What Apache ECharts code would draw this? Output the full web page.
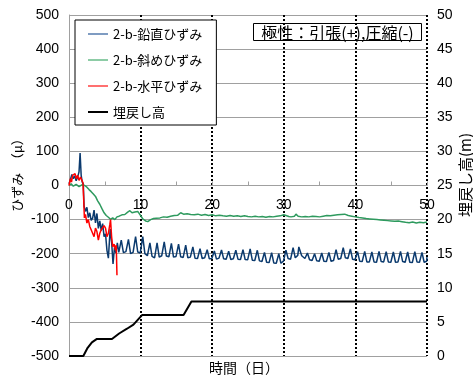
<!DOCTYPE html>
<html>
<head>
<meta charset="utf-8">
<script src="https://cdn.jsdelivr.net/npm/echarts@6/dist/echarts.min.js"></script>
<style>
  html, body { margin: 0; padding: 0; background: #fff; }
  #chart { width: 473px; height: 378px; }
</style>
</head>
<body>
<div id="chart"></div>
<script>
// Strain readings [day, μ] and backfill height [day, m]
const vertical = [
  [0,5],[0.2,18],[0.4,32],[0.6,20],[0.8,28],[1.0,14],[1.2,24],[1.4,40],[1.55,95],[1.7,30],[1.85,10],[2.0,4],
  [2.1,-60],[2.3,-76],[2.5,-64],[2.7,-94],[2.9,-80],[3.1,-102],[3.3,-96],[3.5,-72],[3.7,-110],[3.9,-82],
  [4.1,-126],[4.3,-104],[4.5,-132],[4.7,-112],[4.9,-150],[5.1,-142],[5.3,-190],[5.5,-213],[5.75,-128],[5.95,-165],
  [6.15,-230],[6.35,-182],[6.55,-198],[6.75,-168],[6.95,-196],
  [7.3,-160],[7.6,-197],[7.95,-194],[8.3,-158],[8.6,-200],[8.95,-196],[9.3,-150],[9.6,-195],[9.95,-198],
  [10.3,-150],[10.6,-200],[10.95,-206],[11.3,-168],[11.6,-208],[11.95,-212],[12.3,-168],[12.6,-210],[12.95,-206],
  [13.3,-165],[13.6,-207],[13.95,-209],[14.3,-170],[14.6,-210],[14.95,-208],[15.3,-172],[15.6,-209],[15.95,-211],
  [16.3,-175],[16.6,-212],[16.95,-210],[17.3,-180],[17.6,-213],[17.95,-214],[18.3,-185],[18.6,-214],[18.95,-212],
  [19.3,-188],[19.6,-215],[19.95,-214],[20.3,-192],[20.6,-216],[20.95,-213],[21.3,-189],[21.6,-215],[21.95,-216],
  [22.3,-193],[22.6,-217],[22.95,-215],[23.3,-190],[23.6,-216],[23.95,-217],[24.3,-188],[24.6,-217],[24.95,-218],
  [25.3,-186],[25.6,-219],[25.95,-220],[26.3,-190],[26.6,-221],[26.95,-223],[27.3,-196],[27.6,-225],[27.95,-226],
  [28.3,-197],[28.6,-227],[28.95,-228],[29.3,-200],[29.6,-228],[29.95,-222],[30.3,-190],[30.6,-214],[30.95,-216],
  [31.3,-182],[31.6,-212],[31.95,-205],[32.1,-180],[32.5,-206],[32.95,-214],[33.3,-198],[33.6,-218],[33.95,-220],
  [34.3,-200],[34.6,-221],[34.95,-222],[35.3,-198],[35.6,-222],[35.95,-223],[36.3,-196],[36.6,-222],[36.95,-220],
  [37.3,-188],[37.6,-216],[37.95,-214],[38.3,-182],[38.6,-212],[38.95,-214],[39.3,-186],[39.6,-216],[39.95,-218],
  [40.3,-194],[40.6,-222],[40.95,-223],[41.3,-193],[41.6,-224],[41.95,-224],[42.3,-195],[42.6,-224],[42.95,-225],
  [43.3,-193],[43.6,-223],[43.95,-224],[44.3,-194],[44.6,-224],[44.95,-225],[45.3,-195],[45.6,-225],[45.95,-224],
  [46.3,-193],[46.6,-223],[46.95,-225],[47.3,-195],[47.6,-225],[47.95,-226],[48.3,-194],[48.6,-224],[48.95,-225],
  [49.3,-196],[49.6,-225],[49.95,-222],[50,-210]
];

const diagonal = [
  [0,0],[0.3,5],[0.6,-2],[1.0,3],[1.4,-3],[1.8,2],[2.2,0],[2.5,-5],[2.8,-12],[3.1,-18],[3.4,-25],[3.7,-32],
  [4.0,-45],[4.3,-55],[4.6,-68],[4.9,-80],[5.2,-88],[5.5,-93],[5.8,-99],[6.1,-95],[6.4,-100],[6.7,-92],
  [7.0,-90],[7.4,-86],[7.8,-85],[8.2,-78],[8.5,-74],[8.8,-80],[9.2,-78],[9.6,-76],[10.0,-88],[10.3,-98],
  [10.7,-104],[11.0,-106],[11.4,-100],[11.8,-97],[12.2,-96],[12.7,-95],[13.2,-92],[13.7,-93],[14.2,-90],
  [14.7,-88],[15.2,-87],[15.6,-80],[15.8,-77],[16.0,-84],[16.5,-83],[17.0,-85],[17.5,-86],[18.0,-84],
  [18.5,-87],[19.0,-85],[19.5,-88],[20.0,-86],[20.5,-89],[21.0,-87],[21.5,-89],[22.0,-90],[22.5,-88],
  [23.0,-90],[23.5,-89],[24.0,-91],[24.5,-89],[25,-91],[25.5,-92],[26,-90],[26.5,-92],[27,-91],[27.5,-93],
  [28,-91],[28.5,-92],[29,-90],[29.5,-89],[30.0,-86],[30.3,-88],[30.7,-91],[31,-92],[31.5,-90],[31.7,-84],
  [32,-90],[32.5,-92],[33,-91],[33.5,-92],[34,-90],[34.5,-91],[35,-92],[35.5,-90],[36,-88],[36.5,-89],
  [37,-87],[37.5,-86],[38,-85],[38.5,-84],[39,-88],[39.5,-90],[40,-92],[40.5,-94],[41,-95],[41.5,-97],
  [42,-98],[42.5,-99],[43,-100],[43.5,-101],[44,-102],[44.5,-103],[45,-104],[45.5,-105],[46,-104],
  [46.5,-106],[47,-108],[47.5,-109],[48,-107],[48.5,-110],[49,-108],[49.5,-109],[50,-107]
];

const horizontal = [
  [0,0],[0.2,20],[0.35,10],[0.5,30],[0.7,25],[0.85,35],[1.0,20],[1.2,30],[1.4,15],[1.6,25],[1.8,20],[1.95,8],
  [2.05,-40],[2.15,-95],[2.3,-85],[2.5,-110],[2.7,-100],[2.9,-120],[3.1,-115],[3.3,-140],[3.5,-150],[3.7,-125],
  [3.9,-135],[4.1,-160],[4.3,-140],[4.5,-130],[4.7,-135],[4.9,-118],[5.1,-125],[5.3,-150],[5.5,-140],[5.7,-115],
  [5.8,-100],[5.95,-150],[6.1,-180],[6.3,-172],[6.5,-190],[6.6,-175],[6.7,-263]
];

const backfill = [
  [0,0],[2,0],[2.6,1.2],[3.2,2],[3.9,2.5],[6,2.5],[7,3.3],[8.1,4],[9,4.6],[10.2,6],[16,6],[17.1,8],[50,8]
];

const seriesNames = ['2-b-鉛直ひずみ', '2-b-斜めひずみ', '2-b-水平ひずみ', '埋戻し高'];
const xTicks = { min: 0, max: 50, step: 10 };
const strainTicks = { min: -500, max: 500, step: 100 };
const heightTicks = { min: 0, max: 50, step: 5 };

const NUM_FONT = '"Liberation Sans", Arial, sans-serif';
const JP_FONT = '"Noto Sans CJK JP", "Noto Sans", sans-serif';
const GRID_GRAY = '#a0a0a0';

const GRID = { left: 69, right: 46, top: 15, bottom: 22 };
const chartH = 378;
const plotH = chartH - GRID.top - GRID.bottom;
// the time axis sits on the zero-strain line
const zeroOffset = -plotH * (0 - strainTicks.min) / (strainTicks.max - strainTicks.min);

const chart = echarts.init(document.getElementById('chart'), null, { renderer: 'canvas' });

chart.setOption({
  animation: false,
  backgroundColor: '#fff',
  grid: Object.assign({ containLabel: false }, GRID),
  xAxis: {
    type: 'value',
    min: xTicks.min, max: xTicks.max, interval: xTicks.step,
    offset: zeroOffset,
    axisLine: { show: true, onZero: false, lineStyle: { color: GRID_GRAY, width: 1 } },
    axisTick: { show: true, inside: true, length: 4, lineStyle: { color: GRID_GRAY } },
    minorTick: { show: true, splitNumber: 2, length: 4, lineStyle: { color: GRID_GRAY } },
    axisLabel: { margin: 13, color: '#000', fontSize: 14, fontFamily: NUM_FONT },
    splitLine: { show: true, showMinLine: false, lineStyle: { color: '#000', width: 2, type: [2, 2] } }
  },
  yAxis: [
    {
      type: 'value',
      min: strainTicks.min, max: strainTicks.max, interval: strainTicks.step,
      axisLine: { show: true, lineStyle: { color: GRID_GRAY, width: 1 } },
      axisTick: { show: false },
      axisLabel: { margin: 10, color: '#000', fontSize: 14, fontFamily: NUM_FONT },
      splitLine: { show: true, lineStyle: { color: GRID_GRAY, width: 1 } }
    },
    {
      type: 'value',
      position: 'right',
      min: heightTicks.min, max: heightTicks.max, interval: heightTicks.step,
      axisLine: { show: false },
      axisTick: { show: false },
      axisLabel: { margin: 10, color: '#000', fontSize: 14, fontFamily: NUM_FONT },
      splitLine: { show: false }
    }
  ],
  legend: {
    orient: 'vertical',
    left: 75, top: 20,
    backgroundColor: '#fff',
    borderColor: '#000', borderWidth: 1, borderRadius: 0,
    padding: [7, 14, 6, 13],
    itemGap: 12, itemWidth: 20, itemHeight: 2,
    selectedMode: false,
    textStyle: { color: '#000', fontSize: 13, lineHeight: 14, fontFamily: JP_FONT },
    data: [
      { name: seriesNames[0], icon: 'rect', itemStyle: { color: '#7f9cc2' } },
      { name: seriesNames[1], icon: 'rect', itemStyle: { color: '#8dcca6' } },
      { name: seriesNames[2], icon: 'rect', itemStyle: { color: '#ff7070' } },
      { name: seriesNames[3], icon: 'rect', itemStyle: { color: '#000' } }
    ]
  },
  series: [
    { name: seriesNames[0], type: 'line', yAxisIndex: 0, data: vertical, symbol: 'none',
      lineStyle: { color: '#0b3a6e', width: 1.5 }, itemStyle: { color: '#0b3a6e' }, z: 3 },
    { name: seriesNames[1], type: 'line', yAxisIndex: 0, data: diagonal, symbol: 'none',
      lineStyle: { color: '#2e9a5e', width: 1.5 }, itemStyle: { color: '#2e9a5e' }, z: 3 },
    { name: seriesNames[2], type: 'line', yAxisIndex: 0, data: horizontal, symbol: 'none',
      lineStyle: { color: '#ff0000', width: 1.5 }, itemStyle: { color: '#ff0000' }, z: 4 },
    { name: seriesNames[3], type: 'line', yAxisIndex: 1, data: backfill, symbol: 'none',
      lineStyle: { color: '#000', width: 2 }, itemStyle: { color: '#000' }, z: 3 }
  ],
  graphic: [
    {
      type: 'group', left: 253, top: 23, z: 10,
      children: [
        { type: 'rect', shape: { x: 0, y: 0, width: 168, height: 17 },
          style: { fill: '#fff', stroke: '#000', lineWidth: 1 } },
        { type: 'text', x: 84, y: 9,
          style: { text: '極性：引張(+),圧縮(-)', align: 'center', verticalAlign: 'middle',
                   font: '16px ' + JP_FONT, fill: '#000' } }
      ]
    },
    { type: 'text', x: 17.5, y: 172, rotation: Math.PI / 2, z: 10,
      style: { text: 'ひずみ　（μ）', align: 'center', verticalAlign: 'middle',
               font: '13px ' + JP_FONT, fill: '#000' } },
    { type: 'text', x: 465, y: 175, rotation: Math.PI / 2, z: 10,
      style: { text: '埋戻し高(m)', align: 'center', verticalAlign: 'middle',
               font: '15px ' + JP_FONT, fill: '#000' } },
    { type: 'text', x: 244, y: 368, z: 10,
      style: { text: '時間（日）', align: 'center', verticalAlign: 'middle',
               font: '14px ' + JP_FONT, fill: '#000' } }
  ]
});
</script>
</body>
</html>
